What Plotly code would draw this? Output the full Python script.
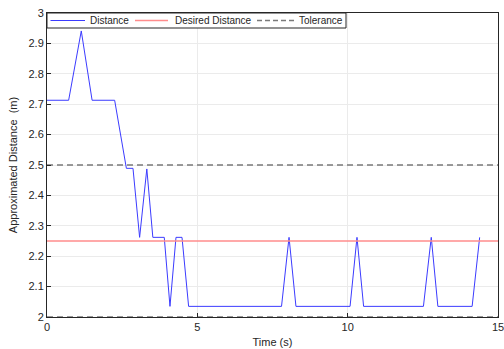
import plotly.graph_objects as go

# Distance estimate over time (s, m)
time_s = [0.0, 0.72, 1.14, 1.50, 2.25, 2.64, 2.86, 3.08, 3.32, 3.52, 3.90, 4.09,
          4.29, 4.49, 4.71, 7.80, 8.05, 8.28, 10.08, 10.31, 10.53, 12.52, 12.78,
          13.00, 14.14, 14.39]
distance_m = [2.713, 2.713, 2.941, 2.713, 2.713, 2.489, 2.489, 2.262, 2.487, 2.262,
              2.262, 2.035, 2.262, 2.262, 2.035, 2.035, 2.262, 2.035, 2.035, 2.262,
              2.035, 2.035, 2.262, 2.035, 2.035, 2.262]

desired_distance = 2.25
tolerance_bounds = [2.0, 2.5]
x_limits = [0, 15]
y_limits = [2, 3]
x_ticks = [0, 5, 10, 15]
y_ticks = [2.0, 2.1, 2.2, 2.3, 2.4, 2.5, 2.6, 2.7, 2.8, 2.9, 3.0]
y_tick_text = ["2", "2.1", "2.2", "2.3", "2.4", "2.5", "2.6", "2.7", "2.8", "2.9", "3"]
legend_labels = ["Distance", "Desired Distance", "Tolerance"]

FONT = "Liberation Sans, Arial"
INK = "#262626"
BLUE = "#3b3bff"
RED = "#ff8c8c"
GREY = "#7a7a7a"

W, H = 504, 349
M = dict(l=47, r=6, t=13, b=32)
PW = W - M["l"] - M["r"]
PH = H - M["t"] - M["b"]

fig = go.Figure()

fig.add_trace(go.Scatter(
    x=time_s, y=distance_m, mode="lines", name=legend_labels[0],
    line=dict(color=BLUE, width=1), showlegend=False,
))
fig.add_trace(go.Scatter(
    x=x_limits, y=[desired_distance] * 2, mode="lines", name=legend_labels[1],
    line=dict(color=RED, width=1.5), showlegend=False,
))
for tb in tolerance_bounds:
    fig.add_trace(go.Scatter(
        x=x_limits, y=[tb] * 2, mode="lines", name=legend_labels[2],
        line=dict(color=GREY, width=1.3, dash="6px,4px"),
        showlegend=False, cliponaxis=False,
    ))

axis_common = dict(
    showline=True, linecolor=INK, linewidth=1, mirror=True,
    ticks="inside", ticklen=4, tickcolor=INK,
    showgrid=True, gridcolor="#ebebeb", gridwidth=1, zeroline=False,
    tickfont=dict(family=FONT, size=11, color=INK),
    automargin=False, ticklabeloverflow="allow",
)

fig.update_xaxes(
    range=x_limits, tickvals=x_ticks,
    title=dict(text="Time (s)", font=dict(family=FONT, size=11, color=INK), standoff=6),
    **axis_common,
)
fig.update_yaxes(
    range=y_limits, tickvals=y_ticks, ticktext=y_tick_text,
    title=dict(text="Approximated Distance  (m)", font=dict(family=FONT, size=11, color=INK), standoff=8),
    **axis_common,
)

# Legend box drawn in paper coordinates (pixel offsets from the plot's top-left corner)
def px(dx):
    return dx / PW

def py(dy):
    return 1 - dy / PH

LEG_H = 15
shapes = [dict(type="rect", xref="paper", yref="paper",
               x0=0, x1=px(299), y0=py(LEG_H), y1=1,
               line=dict(color=INK, width=1), fillcolor="white", layer="above")]
samples = [(3.5, 38, BLUE, 1, "solid"),
           (88, 121, RED, 1.5, "solid"),
           (210, 248, GREY, 1.3, "5px,3px")]
text_x = [41.3, 125.5, 249.5]
for (a, b, col, w, dash), tx, lab in zip(samples, text_x, legend_labels):
    shapes.append(dict(type="line", xref="paper", yref="paper",
                       x0=px(a), x1=px(b), y0=py(LEG_H / 2), y1=py(LEG_H / 2),
                       line=dict(color=col, width=w, dash=dash), layer="above"))
annotations = [dict(xref="paper", yref="paper", x=px(tx), y=py(LEG_H / 2 + 0.5),
                    xanchor="left", yanchor="middle", showarrow=False,
                    text=lab, font=dict(family=FONT, size=10, color=INK))
               for tx, lab in zip(text_x, legend_labels)]

fig.update_layout(
    width=W, height=H,
    margin=M,
    paper_bgcolor="white", plot_bgcolor="white",
    showlegend=False,
    shapes=shapes,
    annotations=annotations,
)

fig.write_html("out.html")
